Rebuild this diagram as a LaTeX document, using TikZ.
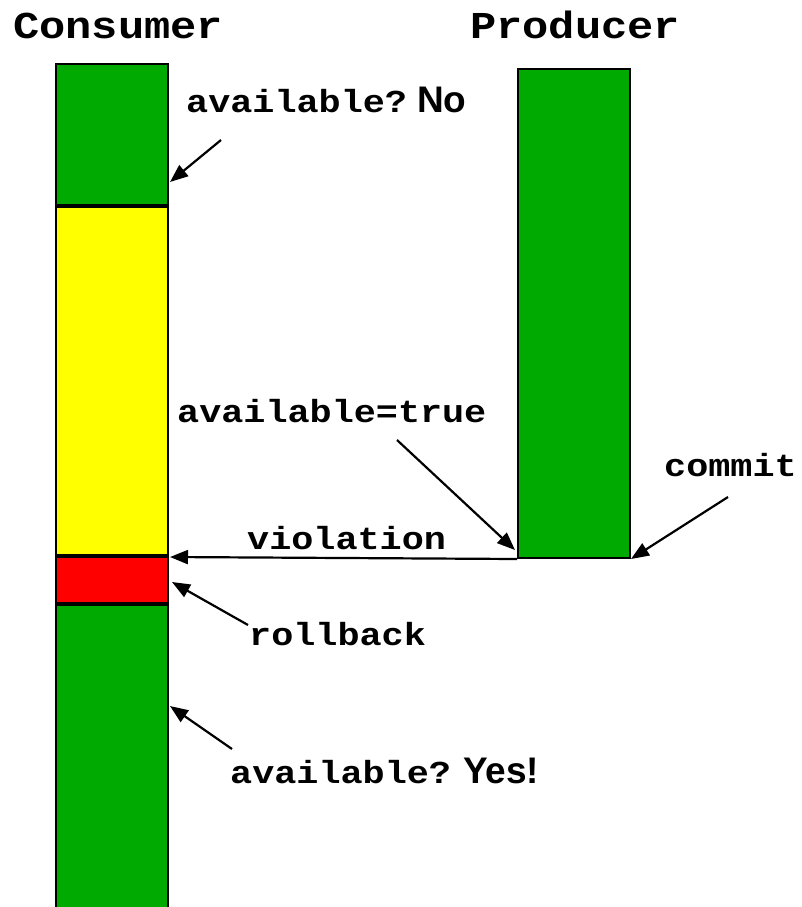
\documentclass[tikz,border=0pt]{standalone}
\usepackage{fontspec}
\setmainfont{Liberation Sans}
\newfontfamily\codefont[FakeStretch=1.15]{Liberation Mono}
\newfontfamily\headfont[FakeStretch=1.15]{Liberation Mono}
\newfontfamily\answerface{Liberation Sans}
\newcommand\answerfont{\answerface\bfseries\fontsize{37}{40}\selectfont}
\usetikzlibrary{arrows.meta}
\definecolor{runok}{HTML}{00AA00}
\definecolor{spec}{HTML}{FFFF00}
\definecolor{undo}{HTML}{FF0000}
\tikzset{
  seg/.style={draw=black, line width=2pt},
  divider/.style={line width=3.5pt},
  code/.style={inner sep=0pt, anchor=base west, font=\codefont\bfseries\fontsize{32}{36}\selectfont},
  title/.style={inner sep=0pt, anchor=base west, font=\headfont\bfseries\fontsize{38}{42}\selectfont},
  pointer/.style={line width=2.2pt, -{Triangle[length=18pt,width=14pt]}},
}
\begin{document}
\begin{tikzpicture}[x=1pt,y=-1pt]
\useasboundingbox (0,0) rectangle (802,907);
% column titles
\node[title] (tcons) at (13,38) {Consumer};
\node[title] (tprod) at (470,38) {Producer};
% consumer timeline
\fill[runok] (56,64) rectangle (168,206);
\fill[spec] (56,206) rectangle (168,556);
\fill[undo] (56,556) rectangle (168,604);
\fill[runok] (56,604) rectangle (168,907);
\draw[line width=2pt] (56,907) -- (56,64) -- (168,64) -- (168,907);
\draw[divider] (56,206) -- (168,206);
\draw[divider] (56,556) -- (168,556);
\draw[divider] (56,604) -- (168,604);
% producer timeline
\node[seg, fill=runok, minimum width=112pt, minimum height=489pt, inner sep=0pt, anchor=north west] (prod) at (517,68) {};
% labels
\node[code] (qno) at (186,112) {available?\hspace{10pt}{\answerfont No}};
\node[code] (avtrue) at (177,422) {available=true};
\node[code] (commit) at (664,476) {commit};
\node[code] (viol) at (247,549) {violation};
\node[code] (rb) at (249,645) {rollback};
\node[code] (qyes) at (230,783) {available?\hspace{12pt}{\answerfont Yes!}};
% arrow anchors on the timelines
\coordinate (cNo) at (170,182);
\coordinate (cViol) at (170,557);
\coordinate (cRb) at (172,582);
\coordinate (cYes) at (170,706);
\coordinate (sNo) at (221,140);
\coordinate (sTrue) at (397,440);
\coordinate (sCommit) at (728,497);
\coordinate (sRb) at (248,625);
\coordinate (sYes) at (232,749);
\draw[pointer] (sNo) -- (cNo);
\draw[pointer] (sTrue) -- ([xshift=-2pt,yshift=9pt]prod.south west);
\draw[pointer] (sCommit) -- (prod.south east);
\draw[pointer] (prod.south west) -- (cViol);
\draw[pointer] (sRb) -- (cRb);
\draw[pointer] (sYes) -- (cYes);
\end{tikzpicture}
\end{document}
